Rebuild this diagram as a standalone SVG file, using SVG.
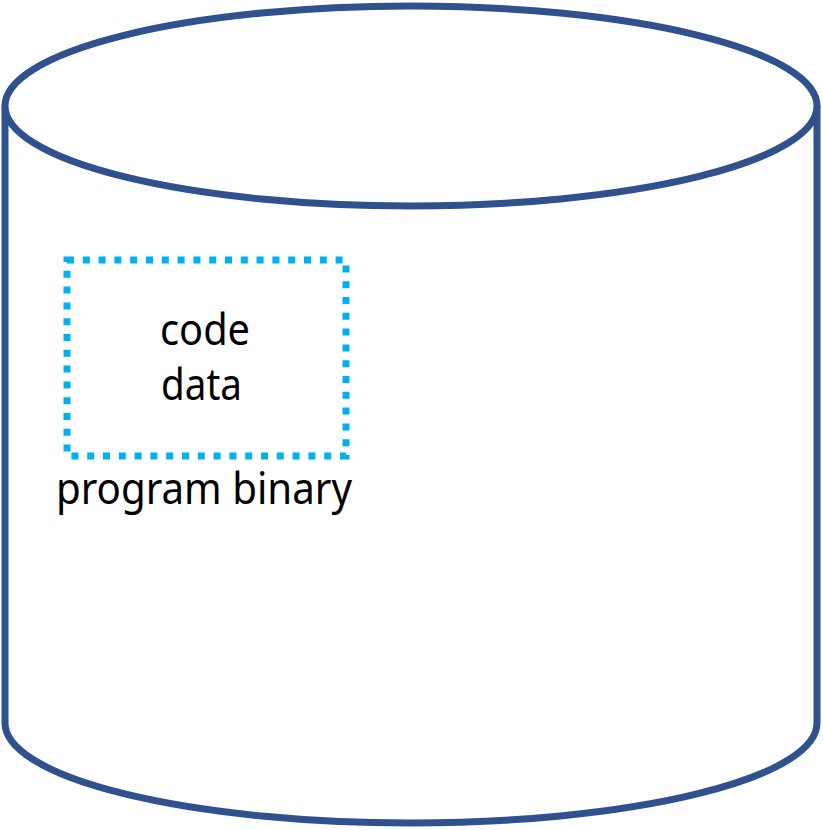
<svg xmlns="http://www.w3.org/2000/svg" width="823" height="830" viewBox="0 0 823 830">
<style>
.cyl{fill:#FFFFFF;stroke:#2F528F;stroke-width:7;}
.dot{fill:none;stroke:#00B0F0;stroke-width:7;stroke-dasharray:7 8.8;}
.t{font-family:"Noto Sans","Open Sans",sans-serif;font-size:43px;fill:#000000;}
</style>
<rect width="823" height="830" fill="#FFFFFF"/>
<g id="disk">
<path class="cyl" d="M5,106 L5,723 A406,100 0 0 0 817,723 L817,106"/>
<ellipse class="cyl" cx="411" cy="106" rx="406" ry="100"/>
</g>
<g id="program-binary">
<rect class="dot" x="67" y="260" width="279" height="196"/>
<text class="t" x="160" y="345" textLength="90" lengthAdjust="spacingAndGlyphs">code</text>
<text class="t" x="161" y="400" textLength="81" lengthAdjust="spacingAndGlyphs">data</text>
<text class="t" x="56" y="504" textLength="296" lengthAdjust="spacingAndGlyphs">program binary</text>
</g>
<g id="connectors"/>
</svg>
